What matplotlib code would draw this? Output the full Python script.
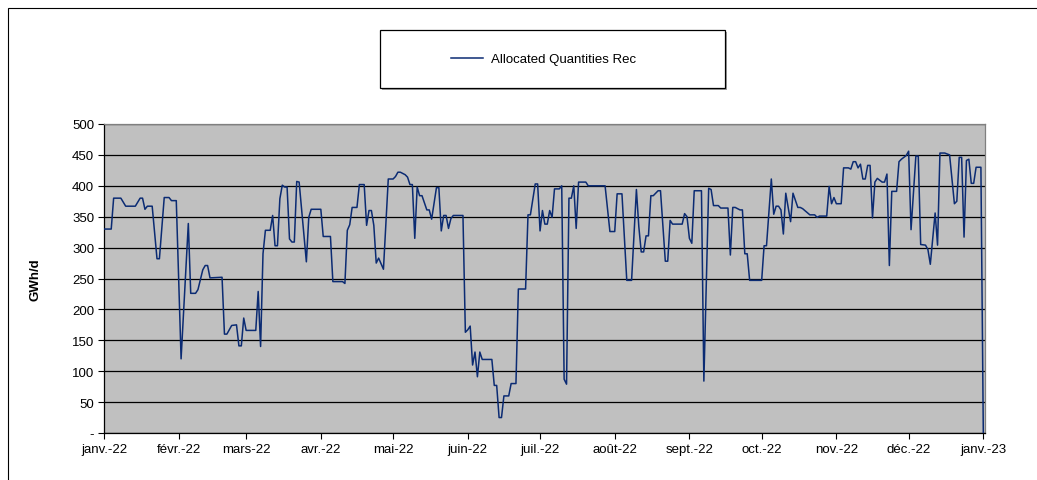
import numpy as np
import matplotlib
matplotlib.use("Agg")
import matplotlib.pyplot as plt
import matplotlib.dates as mdates
from matplotlib.patches import Rectangle
import datetime as dt

# Day offsets from 2022-01-01 and values (GWh/d)
days = [0, 3, 4, 7, 9, 13, 15, 16, 17, 18, 20, 22, 23, 25, 27, 28, 30, 32, 35, 36,
        38, 39, 41, 42, 43, 44, 49, 50, 51, 53, 55, 56, 57, 58, 59, 63, 64, 65, 66, 67,
        69, 70, 71, 72, 73, 74, 75, 76, 77, 78, 79, 80, 81, 84, 85, 86, 90, 91, 94, 95,
        99, 100, 101, 102, 103, 105, 106, 108, 109, 110, 111, 112, 113, 114, 116, 118, 120, 121, 122, 123,
        125, 126, 127, 128, 129, 130, 131, 132, 134, 135, 136, 138, 139, 140, 141, 142, 143, 144, 145, 149,
        150, 151, 152, 153, 154, 155, 156, 157, 161, 162, 163, 164, 165, 166, 168, 169, 171, 172, 175, 176,
        177, 179, 180, 181, 182, 183, 184, 185, 186, 187, 189, 190, 191, 192, 193, 194, 195, 196, 197, 200,
        201, 208, 210, 212, 213, 215, 217, 219, 221, 222, 223, 224, 225, 226, 227, 228, 230, 231, 233, 234,
        235, 236, 240, 241, 242, 243, 244, 245, 248, 249, 251, 252, 253, 255, 256, 259, 260, 261, 262, 264,
        265, 266, 267, 268, 273, 274, 275, 277, 278, 279, 280, 281, 282, 283, 285, 286, 288, 289, 290, 293,
        295, 296, 297, 300, 301, 302, 303, 304, 306, 307, 309, 310, 311, 312, 313, 314, 315, 316, 317, 318,
        319, 320, 321, 323, 324, 325, 326, 327, 329, 330, 331, 333, 334, 335, 337, 338, 339, 341, 342, 343,
        345, 346, 347, 349, 351, 353, 354, 355, 356, 357, 358, 359, 360, 361, 362, 364, 365]
values = [330, 330, 380, 380, 367, 367, 380, 380, 362, 367, 367, 282, 282, 381, 381, 376, 376, 120, 339, 226,
          226, 232, 264, 271, 271, 251, 252, 160, 160, 174, 175, 141, 141, 186, 166, 166, 229, 140, 290, 328,
          328, 352, 303, 303, 379, 401, 398, 398, 314, 309, 309, 407, 406, 277, 349, 362, 362, 318, 318, 245,
          245, 242, 328, 337, 365, 365, 402, 402, 336, 360, 360, 336, 275, 283, 265, 411, 411, 415, 422, 422,
          418, 414, 402, 402, 315, 398, 384, 384, 361, 361, 346, 397, 397, 327, 352, 352, 331, 347, 352, 352,
          163, 167, 173, 110, 131, 91, 131, 119, 119, 77, 77, 25, 25, 60, 60, 80, 80, 233, 233, 353,
          353, 403, 403, 327, 360, 338, 338, 360, 349, 395, 395, 400, 87, 79, 380, 380, 400, 331, 406, 406,
          400, 400, 326, 326, 387, 387, 247, 247, 394, 334, 293, 293, 319, 319, 384, 384, 392, 392, 278, 278,
          344, 338, 338, 355, 350, 315, 307, 392, 392, 84, 396, 394, 368, 368, 364, 364, 288, 365, 365, 361,
          361, 290, 290, 247, 247, 303, 303, 411, 354, 367, 367, 361, 322, 388, 342, 388, 365, 365, 363, 353,
          353, 349, 351, 351, 399, 371, 381, 371, 371, 429, 429, 427, 439, 439, 429, 435, 411, 411, 433, 433,
          348, 406, 412, 406, 406, 419, 271, 391, 391, 439, 443, 449, 456, 329, 448, 448, 305, 304, 297, 273,
          356, 304, 453, 453, 450, 371, 375, 446, 446, 317, 441, 443, 404, 404, 430, 430, 0]

month_labels = ['janv.-22', 'févr.-22', 'mars-22', 'avr.-22', 'mai-22', 'juin-22', 'juil.-22',
                'août-22', 'sept.-22', 'oct.-22', 'nov.-22', 'déc.-22', 'janv.-23']
y_ticks = [0, 50, 100, 150, 200, 250, 300, 350, 400, 450, 500]
y_labels = ['-', '50', '100', '150', '200', '250', '300', '350', '400', '450', '500']
series_name = 'Allocated Quantities Rec'

plt.rcParams['font.family'] = ['Liberation Sans', 'DejaVu Sans']

start = dt.date(2022, 1, 1)
dates = [start + dt.timedelta(days=d) for d in days]
month_starts = [dt.date(2022, m, 1) for m in range(1, 13)] + [dt.date(2023, 1, 1)]

W, H = 1037, 481
fig = plt.figure(figsize=(W / 100, H / 100), dpi=100)
fig.patch.set_facecolor('white')
# outer frame
fig.add_artist(Rectangle((8 / W, -0.1), 1.2, 1 - 9 / H + 0.1, transform=fig.transFigure,
                         fill=False, edgecolor='black', linewidth=0.8))

ax = fig.add_axes([104 / W, 1 - 434 / H, (985 - 104) / W, (434 - 125) / H])
ax.set_facecolor('#C0C0C0')
ax.plot(dates, values, color='#0B2B73', linewidth=1.1, label=series_name, zorder=3)

ax.set_ylim(0, 500)
ax.set_yticks(y_ticks)
ax.set_yticklabels(y_labels, fontsize=9.5)
ax.set_xlim(mdates.date2num(start), mdates.date2num(dt.date(2023, 1, 1)) + 0.7)
ax.set_xticks([mdates.date2num(m) for m in month_starts])
ax.set_xticklabels(month_labels, fontsize=9.5)
ax.grid(axis='y', color='black', linewidth=0.9, zorder=1)
ax.set_axisbelow(True)
ax.tick_params(axis='both', direction='out', length=4, width=0.8, color='black', pad=3)
ax.set_ylabel('GWh/d', fontsize=9.5, fontweight='bold', labelpad=22)
for s in ['left', 'bottom']:
    ax.spines[s].set_color('black')
    ax.spines[s].set_linewidth(0.9)
for s in ['top', 'right']:
    ax.spines[s].set_color('#808080')
    ax.spines[s].set_linewidth(0.9)

# legend box (drawn as frame) with shadow
fig.add_artist(Rectangle((382 / W, 1 - 91 / H), (725 - 380) / W, (89 - 31) / H,
                         transform=fig.transFigure, facecolor='#A0A0A0', edgecolor='none', zorder=4))
fig.add_artist(Rectangle((380 / W, 1 - 89 / H), (725 - 380) / W, (89 - 31) / H,
                         transform=fig.transFigure, facecolor='white', edgecolor='black',
                         linewidth=0.9, zorder=5))
leg = fig.legend(loc='center left', bbox_to_anchor=(451 / W, 1 - 60 / H),
                 fontsize=9.5, frameon=False, handlelength=2.4, handletextpad=0.6,
                 borderpad=0.0, borderaxespad=0.0)
leg.set_zorder(6)

fig.savefig('out.png', dpi=100)
